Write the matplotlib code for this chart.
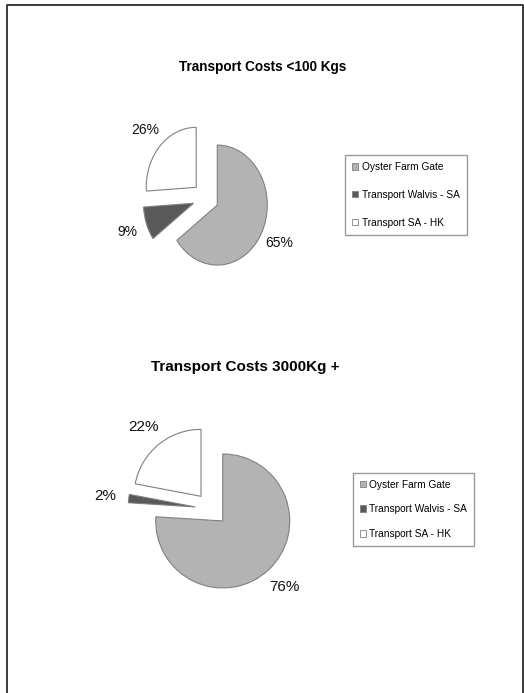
import matplotlib
matplotlib.use("Agg")
import matplotlib.pyplot as plt
from matplotlib.lines import Line2D
from matplotlib.patches import Patch

W, H = 524, 693

categories = ["Oyster Farm Gate", "Transport Walvis - SA", "Transport SA - HK"]
small_values = [65, 9, 26]
large_values = [76, 2, 22]
titles = ["Transport Costs <100 Kgs", "Transport Costs 3000Kg +"]

colors = ["#b3b3b3", "#595959", "#ffffff"]
edge = "#808080"
family = ["Liberation Sans", "DejaVu Sans"]

fig = plt.figure(figsize=(W / 100, H / 100), dpi=100)


def box(x0, y0, x1, y1):
    # pixel box (top-left origin) -> figure fraction rect
    return [x0 / W, 1 - y1 / H, (x1 - x0) / W, (y1 - y0) / H]


def draw_pie(values, cx, cy, rx, ry, explode, pctdist, labelsize):
    hw, hh = 120, 105
    ax = fig.add_axes(box(cx - hw, cy - hh, cx + hw, cy + hh))
    ax.pie(values, colors=colors, startangle=90, counterclock=False,
           explode=[explode] * len(values),
           autopct=lambda p: f"{p:.0f}%", pctdistance=pctdist,
           wedgeprops=dict(edgecolor=edge, linewidth=0.8),
           textprops=dict(fontsize=labelsize, family=family, color="#111111"))
    ax.set_aspect("auto")
    ax.set_xlim(-hw / rx, hw / rx)
    ax.set_ylim(-hh / ry, hh / ry)
    ax.axis("off")
    return ax


def draw_legend(x0, y0, spacing, pad):
    handles = [Patch(facecolor=c, edgecolor=edge, linewidth=0.6) for c in colors]
    fig.legend(handles, categories, loc="upper left",
               bbox_to_anchor=(x0 / W, 1 - y0 / H), borderaxespad=0,
               prop=dict(family=family, size=7.3),
               frameon=True, fancybox=False, edgecolor="#999999",
               framealpha=1, borderpad=pad, labelspacing=spacing,
               handlelength=0.6, handleheight=0.6, handletextpad=0.35)


# first chart: small shipments (slightly condensed look)
draw_pie(small_values, 205.7, 198, 50, 60, 0.26, 1.4, 10)
fig.text(262.5 / W, 1 - 71 / H, titles[0], ha="center", va="baseline",
         fontsize=9.8, fontweight="bold", family=family)
draw_legend(345, 155, 1.75, 0.7)

# second chart: large shipments
draw_pie(large_values, 211.5, 509, 67, 67, 0.245, 1.35, 11)
fig.text(245.5 / W, 1 - 371 / H, titles[1], ha="center", va="baseline",
         fontsize=11, fontweight="bold", family=family)
draw_legend(353, 473, 1.45, 0.65)

# page frame (left, top, right)
xs = [6.5 / W, 6.5 / W, 522.5 / W, 522.5 / W]
ys = [0, 1 - 4.5 / H, 1 - 4.5 / H, 0]
fig.add_artist(Line2D(xs, ys, transform=fig.transFigure,
                      color="#3a3a3a", linewidth=1.4))

fig.savefig("out.png", dpi=100)
